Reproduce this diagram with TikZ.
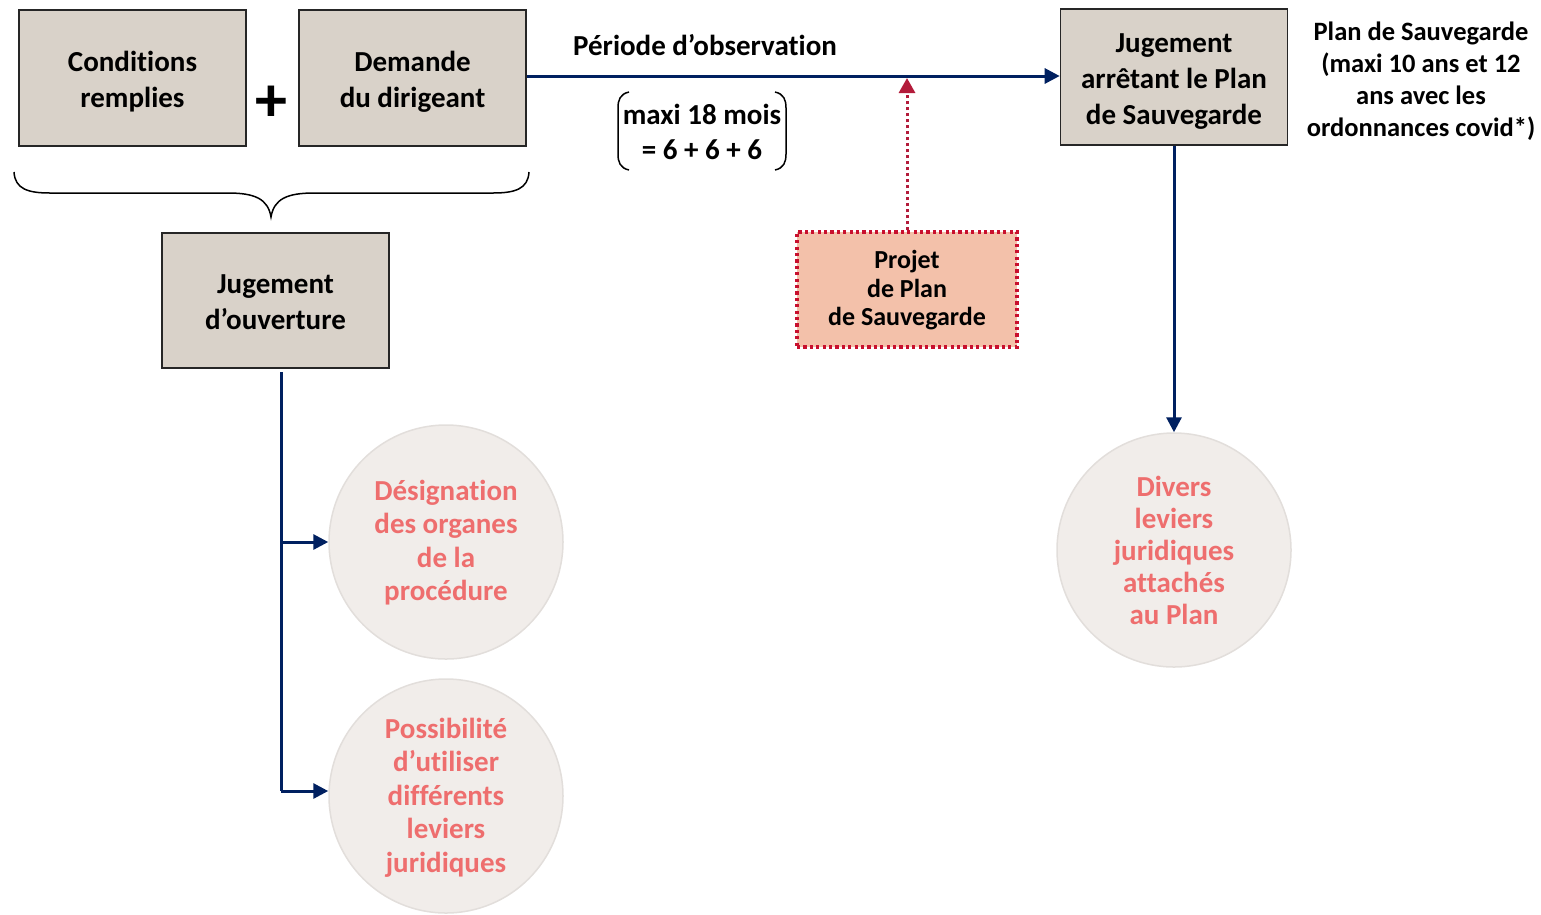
\documentclass[tikz,border=0pt]{standalone}
\usepackage{fontspec}
\setmainfont{Carlito}[Ligatures={NoCommon,NoContextual}, Contextuals=NoAlternate]
\usetikzlibrary{arrows.meta,calc}
\definecolor{boxfill}{HTML}{D9D2C9}
\definecolor{navy}{HTML}{002060}
\definecolor{circfill}{HTML}{F1EDEA}
\definecolor{circline}{HTML}{E2DEDB}
\definecolor{circtext}{HTML}{EE6E6E}
\definecolor{projfill}{HTML}{F3C1AA}
\definecolor{projline}{HTML}{C8102E}
\definecolor{dotarrow}{HTML}{B31B3A}
\newcommand{\dnlines}[2]{\raisebox{-#1}[\height][\depth]{\begin{tabular}{@{}c@{}}#2\end{tabular}}}
\tikzset{
  graybox/.style={draw=black!85, line width=1.6pt, fill=boxfill, minimum width=227pt, minimum height=136pt, align=center, inner sep=0pt, font=\fontsize{29}{36}\selectfont\bfseries},
  circ/.style={circle, draw=circline, line width=1.5pt, fill=circfill, minimum size=234pt, inner sep=0pt, align=center, text=circtext, font=\fontsize{29}{33.5}\selectfont\bfseries},
  projbox/.style={draw=projline, line width=3.2pt, dash pattern=on 3.2pt off 3.2pt, fill=projfill, minimum width=220pt, minimum height=115pt, align=center, inner sep=0pt, font=\fontsize{26}{28.5}\selectfont\bfseries},
  lbl/.style={align=center, inner sep=0pt, font=\fontsize{29}{35}\selectfont\bfseries},
  navyarrow/.style={draw=navy, line width=3pt, -{Triangle[length=15pt,width=15pt]}},
  navyline/.style={draw=navy, line width=3pt},
  dotarr/.style={draw=dotarrow, line width=3pt, dash pattern=on 3pt off 3pt, -{Triangle[length=15pt,width=16pt]}},
  bracketline/.style={draw=black, line width=1.5pt},
}
\begin{document}
\begin{tikzpicture}[x=1pt,y=-1pt]
\useasboundingbox (0,0) rectangle (1541,914);
% boxes
\node[graybox] (cond) at (132.5,78) {\dnlines{4pt}{Conditions\\remplies}};
\node[graybox] (dem) at (412.5,78) {\dnlines{4pt}{Demande\\du dirigeant}};
\node[lbl, font=\fontsize{64}{64}\selectfont\bfseries] (plus) at (271,104) {+};
\node[graybox, minimum height=135pt] (ouv) at (275.5,300.5) {\dnlines{3.5pt}{Jugement\\d’ouverture}};
\node[graybox] (arr) at (1174,77) {\dnlines{4.5pt}{Jugement\\arrêtant le Plan\\de Sauvegarde}};
\node[lbl, font=\fontsize{26.5}{32}\selectfont\bfseries] (plan) at (1421,81) {Plan de Sauvegarde\\(maxi 10 ans et 12\\ans avec les\\ordonnances covid*)};
% brace
\coordinate (bl) at (14,172);
\coordinate (br) at (529,172);
\coordinate (btip) at (271,217);
\draw[bracketline] (bl) .. controls (15,189) and (28,193) .. (50,193) -- (228,193) .. controls (255,193) and (268,199) .. (btip) .. controls (274,199) and (287,193) .. (314,193) -- (493,193) .. controls (515,193) and (528,189) .. (br);
% period labels
\node[lbl] (per) at (705,45) {Période d’observation};
\node[lbl] (maxi) at (702,131.5) {maxi 18 mois\\= 6 + 6 + 6};
\draw[bracketline] (629,92) .. controls (620,94) and (618,100) .. (618,108) -- (618,154) .. controls (618,162) and (620,168) .. (629,170);
\draw[bracketline] (775,92) .. controls (784,94) and (786,100) .. (786,108) -- (786,154) .. controls (786,162) and (784,168) .. (775,170);
% main arrow
\draw[navyarrow] (dem.east |- 0,76) -- (arr.west |- 0,76);
% projet
\node[projbox] (proj) at (907,289.5) {\dnlines{2pt}{Projet\\de Plan\\de Sauvegarde}};
\coordinate (projtip) at (907,78);
\draw[dotarr] (proj.north) -- (projtip);
% circles
\node[circ] (c1) at (446,542) {\dnlines{2pt}{Désignation\\des organes\\de la\\procédure}};
\node[circ] (c2) at (446,796) {\dnlines{2.5pt}{Possibilité\\d’utiliser\\différents\\leviers\\juridiques}};
\node[circ, font=\fontsize{29}{32}\selectfont\bfseries] (c3) at (1174,550) {Divers\\leviers\\juridiques\\attachés\\au Plan};
% connectors
\coordinate (trunk) at (281,372);
\draw[navyline] (trunk) -- (281,791);
\draw[navyarrow] (281,542) -- (c1.west);
\draw[navyarrow] (281,791) -- ($(c2.west)+(0,-5)$);
\draw[navyarrow] (arr.south) -- (c3.north);
\end{tikzpicture}
\end{document}
